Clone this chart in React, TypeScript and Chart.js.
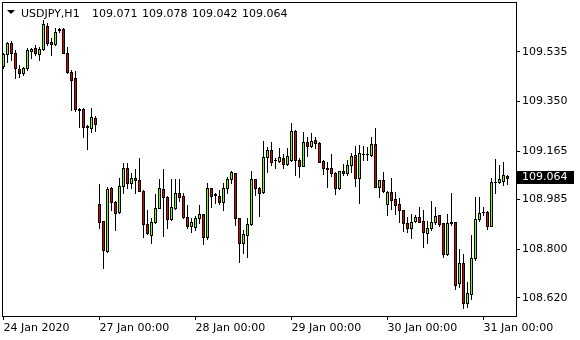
import React, { useEffect, useRef } from "react";
import { Chart, registerables } from "chart.js";

Chart.register(...registerables);

const SYMBOL = "USDJPY,H1";
const HEADER_VALUES = ["109.071", "109.078", "109.042", "109.064"];

const opens = [
  109.483, 109.525, 109.566, 109.532, 109.470, 109.454, 109.473, 109.538, 109.547, 109.525,
  109.544, 109.631, 109.572, 109.562, 109.618, 109.618, 109.532, 109.458, 109.439, 109.322,
  109.322, 109.257, 109.253, 109.289,
  108.968, 108.905, 108.794, 109.027, 108.977, 108.937, 109.035, 109.101, 109.045, 109.064,
  109.057, 109.018, 108.893, 108.855, 108.900, 108.954, 109.023, 108.995, 108.911, 108.954,
  109.008, 108.998, 108.919, 108.887,
  108.884, 108.915, 108.930, 108.846, 109.027, 109.004, 108.999, 108.977, 109.027, 109.061,
  109.082, 108.915, 108.822, 108.855, 108.893, 109.060, 109.027, 109.012, 109.142, 109.169,
  109.132, 109.129, 109.140, 109.116,
  109.132, 109.240, 109.134, 109.111, 109.198, 109.185, 109.206, 109.196, 109.128, 109.101,
  109.101, 109.085, 109.027, 109.091, 109.082, 109.113, 109.150, 109.064, 109.154, 109.154,
  109.150, 109.190, 109.033, 109.057,
  108.967, 109.012, 108.986, 108.967, 108.946, 108.896, 108.878, 108.905, 108.919, 108.905,
  108.859, 108.881, 108.900, 108.927, 108.896, 108.781, 108.900, 108.900, 108.673, 108.748,
  108.602, 108.633, 108.766, 108.912,
  108.937, 108.937, 108.887, 109.051, 109.051, 109.055, 109.071,
];

const highs = [
  109.530, 109.572, 109.576, 109.541, 109.485, 109.479, 109.547, 109.548, 109.560, 109.553,
  109.653, 109.640, 109.585, 109.622, 109.624, 109.625, 109.553, 109.467, 109.464, 109.324,
  109.325, 109.262, 109.324, 109.296,
  109.043, 108.907, 109.030, 109.030, 108.979, 109.067, 109.122, 109.120, 109.085, 109.097,
  109.138, 109.020, 108.946, 108.916, 109.004, 109.060, 109.097, 108.998, 109.060, 109.060,
  109.060, 109.008, 108.964, 108.915,
  108.924, 108.964, 108.932, 109.045, 109.029, 109.008, 109.020, 109.045, 109.070, 109.091,
  109.084, 108.917, 108.871, 108.917, 109.091, 109.062, 109.030, 109.204, 109.181, 109.198,
  109.140, 109.175, 109.154, 109.175,
  109.271, 109.242, 109.138, 109.235, 109.216, 109.231, 109.216, 109.200, 109.134, 109.126,
  109.154, 109.087, 109.093, 109.116, 109.134, 109.160, 109.185, 109.188, 109.185, 109.181,
  109.216, 109.252, 109.059, 109.088,
  109.016, 109.064, 109.014, 108.989, 108.948, 108.921, 108.931, 108.927, 108.956, 108.946,
  108.905, 108.980, 108.956, 108.929, 108.898, 108.931, 109.010, 108.902, 108.800, 108.782,
  108.679, 108.853, 108.995, 108.995,
  108.958, 108.943, 109.067, 109.135, 109.113, 109.126, 109.078,
];

const lows = [
  109.473, 109.497, 109.504, 109.438, 109.442, 109.448, 109.467, 109.510, 109.522, 109.506,
  109.541, 109.560, 109.522, 109.560, 109.607, 109.530, 109.456, 109.318, 109.315, 109.255,
  109.217, 109.172, 109.237, 109.240,
  108.878, 108.731, 108.790, 108.946, 108.871, 108.935, 109.010, 109.027, 109.027, 109.008,
  109.016, 108.844, 108.857, 108.824, 108.898, 108.952, 108.850, 108.878, 108.909, 108.950,
  108.980, 108.917, 108.878, 108.863,
  108.871, 108.896, 108.818, 108.837, 108.956, 108.971, 108.967, 108.946, 109.008, 109.045,
  108.890, 108.754, 108.785, 108.772, 108.891, 109.002, 108.925, 109.010, 109.086, 109.113,
  109.103, 109.123, 109.101, 109.113,
  109.130, 109.076, 109.070, 109.109, 109.147, 109.181, 109.178, 109.123, 109.080, 109.033,
  109.072, 109.005, 109.025, 109.076, 109.076, 109.088, 109.035, 108.974, 109.134, 109.134,
  109.148, 109.031, 108.995, 109.014,
  108.927, 108.950, 108.930, 108.900, 108.868, 108.865, 108.843, 108.902, 108.900, 108.807,
  108.822, 108.871, 108.894, 108.886, 108.772, 108.778, 108.890, 108.651, 108.658, 108.580,
  108.584, 108.615, 108.760, 108.906,
  108.927, 108.875, 108.885, 109.010, 109.045, 109.041, 109.042,
];

const closes = [
  109.525, 109.566, 109.532, 109.473, 109.454, 109.475, 109.541, 109.546, 109.529, 109.544,
  109.637, 109.566, 109.562, 109.609, 109.615, 109.532, 109.458, 109.429, 109.322, 109.318,
  109.255, 109.255, 109.293, 109.265,
  108.902, 108.797, 109.023, 108.977, 108.934, 109.035, 109.101, 109.045, 109.064, 109.057,
  109.018, 108.893, 108.859, 108.900, 108.952, 109.027, 108.995, 108.911, 108.958, 109.008,
  108.993, 108.919, 108.887, 108.900,
  108.917, 108.930, 108.846, 109.027, 108.999, 109.003, 108.977, 109.027, 109.061, 109.086,
  108.915, 108.822, 108.857, 108.893, 109.060, 109.027, 109.008, 109.142, 109.169, 109.126,
  109.131, 109.142, 109.116, 109.147,
  109.240, 109.134, 109.111, 109.198, 109.185, 109.204, 109.194, 109.126, 109.101, 109.100,
  109.082, 109.027, 109.091, 109.082, 109.113, 109.147, 109.064, 109.157, 109.155, 109.155,
  109.190, 109.033, 109.057, 109.016,
  109.012, 108.983, 108.964, 108.946, 108.896, 108.878, 108.902, 108.919, 108.902, 108.863,
  108.881, 108.900, 108.923, 108.894, 108.781, 108.896, 108.899, 108.669, 108.748, 108.602,
  108.636, 108.766, 108.912, 108.936,
  108.938, 108.887, 109.049, 109.052, 109.060, 109.076, 109.064,
];

const dayTickIndex = [0, 24, 48, 72, 96, 120];
const dayTickLabels = [
  "24 Jan 2020",
  "27 Jan 00:00",
  "28 Jan 00:00",
  "29 Jan 00:00",
  "30 Jan 00:00",
  "31 Jan 00:00",
];
const priceTicks = [108.62, 108.8, 108.985, 109.165, 109.35, 109.535];

const BULL = "#7CFC00";
const BEAR = "#E00000";
const FONT = "DejaVu Sans";

const candlePlugin = {
  id: "candles",
  afterDatasetsDraw(chart: any) {
    const ctx = chart.ctx;
    const xs = chart.scales.x;
    const ys = chart.scales.y;
    const area = chart.chartArea;
    ctx.save();
    ctx.beginPath();
    ctx.rect(area.left, area.top, area.right - area.left, area.bottom - area.top);
    ctx.clip();
    for (let i = 0; i < closes.length; i++) {
      const o = opens[i], h = highs[i], l = lows[i], c = closes[i];
      const x = Math.round(xs.getPixelForValue(i) - 0.5);
      const yH = Math.round(ys.getPixelForValue(h));
      const yL = Math.round(ys.getPixelForValue(l));
      const yO = Math.round(ys.getPixelForValue(o));
      const yC = Math.round(ys.getPixelForValue(c));
      ctx.fillStyle = "#000";
      ctx.fillRect(x, yH, 1, yL - yH + 1);
      const top = Math.min(yO, yC);
      const bot = Math.max(yO, yC);
      ctx.fillRect(x - 1, top, 3, bot - top + 1);
      if (bot - top >= 2) {
        ctx.fillStyle = c >= o ? BULL : BEAR;
        ctx.fillRect(x, top + 1, 1, bot - top - 1);
      }
    }
    ctx.restore();
  },
  afterDraw(chart: any) {
    const ctx = chart.ctx;
    const area = chart.chartArea;
    const ys = chart.scales.y;
    const L = Math.round(area.left);
    const R = Math.round(area.right);
    const T = Math.round(area.top);
    const B = Math.round(area.bottom);
    ctx.save();
    ctx.fillStyle = "#000";
    ctx.fillRect(L, T, R - L + 1, 1);
    ctx.fillRect(L, B, R - L + 1, 1);
    ctx.fillRect(L, T, 1, B - T + 1);
    ctx.fillRect(R, T, 1, B - T + 1);

    // header
    ctx.beginPath();
    ctx.moveTo(7, 10);
    ctx.lineTo(15, 10);
    ctx.lineTo(11, 14);
    ctx.closePath();
    ctx.fill();
    ctx.font = `11px "${FONT}"`;
    ctx.textBaseline = "alphabetic";
    ctx.textAlign = "left";
    ctx.fillText(SYMBOL, 21, 17);
    HEADER_VALUES.forEach((t, k) => ctx.fillText(t, 92 + k * 50, 17));

    // last price marker
    const last = closes[closes.length - 1];
    const py = Math.round(ys.getPixelForValue(last));
    ctx.fillStyle = "#000";
    ctx.fillRect(R + 1, py - 7, 57, 13);
    ctx.fillStyle = "#fff";
    ctx.textBaseline = "middle";
    ctx.fillText(last.toFixed(3), R + 6, py - 0.5);
    ctx.restore();
  },
};

export default function App() {
  const ref = useRef<HTMLCanvasElement | null>(null);

  useEffect(() => {
    document.body.style.margin = "0";
    const canvas = ref.current;
    if (!canvas) return;
    const chart = new Chart(canvas, {
      type: "line",
      data: {
        datasets: [
          {
            data: closes.map((c, i) => ({ x: i, y: c })),
            showLine: false,
            pointRadius: 0,
            pointHoverRadius: 0,
          },
        ],
      },
      options: {
        responsive: false,
        animation: false,
        devicePixelRatio: 1,
        events: [],
        layout: { padding: { left: 2, top: 2, right: 0, bottom: 0 } },
        plugins: { legend: { display: false }, tooltip: { enabled: false }, title: { display: false } },
        scales: {
          x: {
            type: "linear",
            position: "bottom",
            min: -0.375,
            max: 128.125,
            afterBuildTicks: (s: any) => {
              s.ticks = dayTickIndex.map((v) => ({ value: v }));
            },
            afterFit: (s: any) => {
              s.height = 24;
              s.paddingLeft = 0;
              s.paddingRight = 0;
              s.paddingTop = 0;
              s.paddingBottom = 0;
            },
            ticks: {
              autoSkip: false,
              maxRotation: 0,
              minRotation: 0,
              align: "start",
              padding: 2,
              color: "#000",
              font: { family: FONT, size: 11 },
              callback: (_v: any, idx: number) => dayTickLabels[idx],
            },
            grid: { drawOnChartArea: false, drawTicks: true, tickLength: 4, color: "#000" },
            border: { display: false },
          },
          y: {
            type: "linear",
            position: "right",
            min: 108.5519,
            max: 109.7199,
            afterBuildTicks: (s: any) => {
              s.ticks = priceTicks.map((v) => ({ value: v }));
            },
            afterFit: (s: any) => {
              s.width = 64;
              s.paddingLeft = 0;
              s.paddingRight = 0;
              s.paddingTop = 0;
              s.paddingBottom = 0;
            },
            ticks: {
              padding: 2,
              color: "#000",
              font: { family: FONT, size: 11 },
              callback: (v: any) => Number(v).toFixed(3),
            },
            grid: { drawOnChartArea: false, drawTicks: true, tickLength: 4, color: "#000" },
            border: { display: false },
          },
        },
      },
      plugins: [candlePlugin],
    });
    return () => chart.destroy();
  }, []);

  return (
    <div style={{ width: 580, height: 340, background: "#fff" }}>
      <canvas ref={ref} width={580} height={340} style={{ display: "block" }} />
    </div>
  );
}
